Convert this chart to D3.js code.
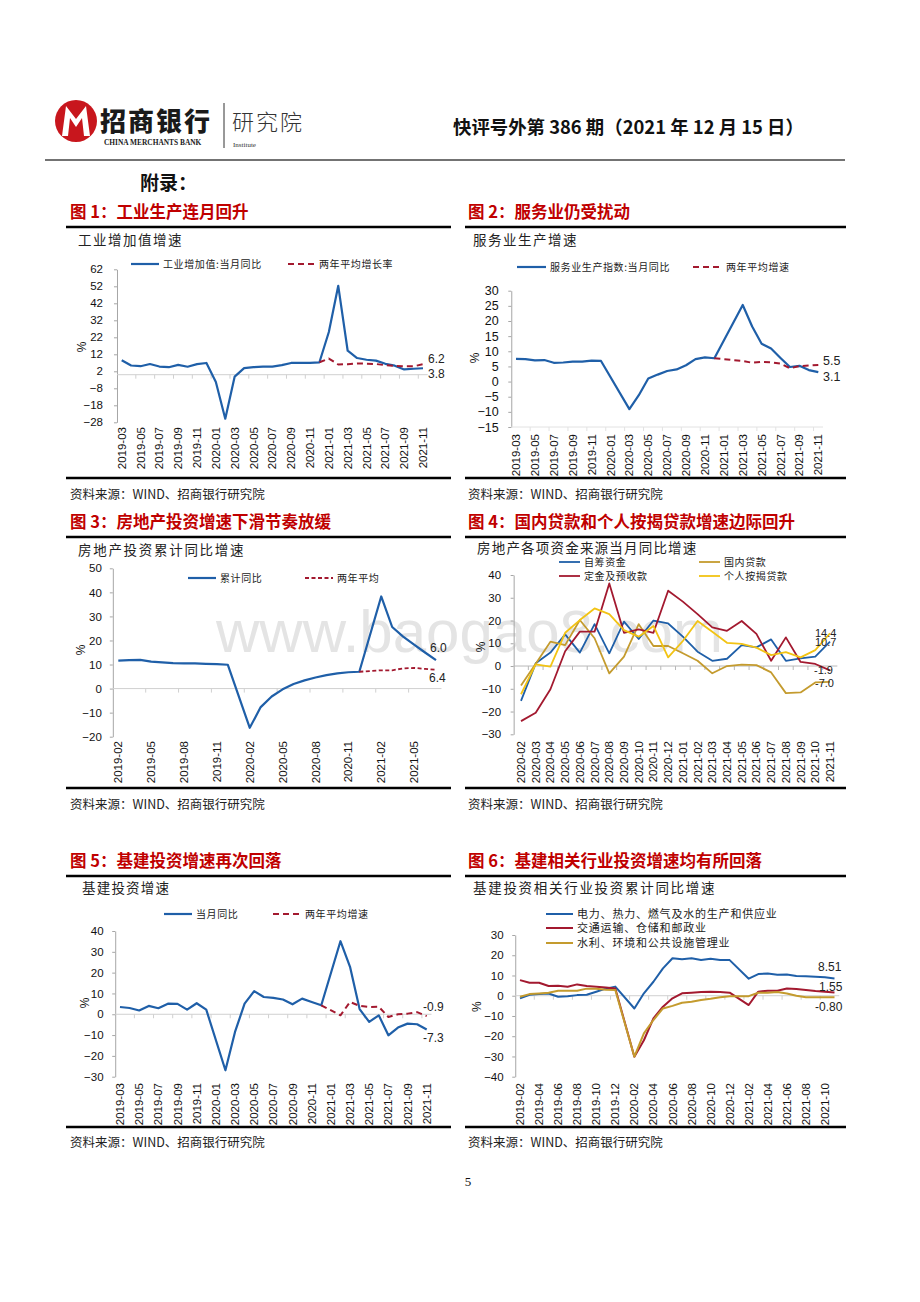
<!DOCTYPE html>
<html>
<head>
<meta charset="utf-8">
<script src="https://cdn.jsdelivr.net/npm/d3@7"></script>
<style>
  body { margin: 0; background: #fff; }
</style>
</head>
<body>
<svg id="page" width="920" height="1302"></svg>
<script>
// ---- categories ----
function monthRange(start, end) {
  const p = d3.timeParse("%Y-%m"), f = d3.timeFormat("%Y-%m");
  return d3.timeMonths(p(start), d3.timeMonth.offset(p(end), 1)).map(f);
}
const cat1 = monthRange("2019-03", "2021-11");   // 图1、图2、图5
const cat3 = monthRange("2019-02", "2021-07");   // 图3
const cat4 = monthRange("2020-02", "2021-11");   // 图4
const cat6 = monthRange("2019-02", "2021-11");   // 图6

// ---- 图1 工业增加值 ----
const ivaYoy = [8.5,5.4,5.0,6.3,4.8,4.4,5.8,4.7,6.2,6.9,
  -4.3,-25.9,-1.1,3.9,4.4,4.8,4.8,5.6,6.9,6.9,7.0,7.3,
  25.1,52.3,14.1,9.8,8.8,8.3,6.4,5.3,3.1,3.5,3.8];
const iva2y = [null,null,null,null,null,null,null,null,null,null,
  null,null,null,null,null,null,null,null,null,null,null,7.3,
  9.5,6.0,6.2,6.6,6.5,6.3,5.6,5.2,4.9,4.9,6.2];

// ---- 图2 服务业生产指数 ----
const svcYoy = [7.5,7.4,7.0,7.1,6.2,6.3,6.6,6.6,6.9,6.8,
  null,null,-9.1,-4.5,1.0,2.3,3.5,4.0,5.4,7.4,8.0,7.7,
  null,null,25.3,18.2,12.5,10.9,7.8,4.8,5.2,3.8,3.1];
const svc2y = [null,null,null,null,null,null,null,null,null,null,
  null,null,null,null,null,null,null,null,null,null,null,7.7,
  null,null,6.8,6.2,6.5,6.4,5.9,4.4,5.1,5.3,5.5];

// ---- 图3 房地产投资 ----
const reCum = [11.6,11.8,11.9,11.2,10.9,10.6,10.5,10.5,10.3,10.2,9.9,
  null,-16.3,-7.7,-3.3,-0.3,1.9,3.4,4.6,5.6,6.3,6.8,7.0,
  null,38.3,25.6,21.6,18.3,15.0,11.8];
const re2y = [null,null,null,null,null,null,null,null,null,null,null,
  null,null,null,null,null,null,null,null,null,null,null,7.0,
  null,7.6,7.6,8.4,8.6,8.2,7.8];

// ---- 图4 房地产资金来源 ----
const selfFund = [-15.3,1.2,5.9,13.9,5.9,18.4,5.6,19.5,11.9,20.0,18.7,12.9,6.3,2.3,3.2,9.2,8.2,11.7,2.3,3.4,4.1,10.7];
const domLoan  = [-8.6,1.0,10.7,9.2,20.2,12.2,-3.2,4.1,18.4,8.8,8.8,5.6,2.3,-3.2,0.0,0.6,0.4,-2.8,-11.9,-11.6,-7.2,-7.0];
const deposits = [-24.2,-20.5,-10.2,6.5,15.1,15.1,36.3,14.6,16.1,14.6,33.1,28.3,22.8,17.0,15.5,19.8,14.1,2.3,12.6,1.8,0.9,-1.9];
const mortgage = [-12.4,0.7,-0.3,14.6,20.2,25.3,22.8,15.8,12.9,17.6,3.8,11.0,19.8,15.1,10.2,9.7,8.1,4.8,6.1,3.8,7.0,14.4];

// ---- 图5 基建投资 ----
const infraYoy = [3.5,3.0,1.8,4.0,2.9,5.1,5.0,2.2,5.3,2.2,
  null,-26.9,-8.5,5.1,11.1,8.3,7.9,7.1,4.8,7.5,5.9,4.3,
  null,35.1,22.8,2.5,-3.7,-0.5,-10.1,-6.4,-4.5,-4.8,-7.3];
const infra2y = [null,null,null,null,null,null,null,null,null,null,
  null,null,null,null,null,null,null,null,null,null,null,4.3,
  null,-0.5,5.9,4.0,3.5,3.6,-1.3,0.0,0.3,1.0,-0.9];

// ---- 图6 基建相关行业 ----
const power = [-1.3,0.5,0.8,1.1,-0.5,-0.2,0.3,0.5,2.0,3.5,4.5,
  null,-6.3,1.2,6.9,13.5,18.5,18.0,18.5,17.6,18.3,17.6,17.6,
  null,8.4,10.7,11.0,10.4,10.5,9.7,9.6,9.4,9.1,8.51];
const transport = [7.7,6.4,6.4,4.8,4.9,4.4,5.6,4.8,4.4,4.1,3.6,
  null,-30.1,-22.0,-11.2,-5.4,-1.3,1.2,1.5,1.8,2.0,1.8,1.5,
  null,-4.6,2.0,2.5,2.5,3.6,3.3,2.8,2.3,2.0,1.55];
const water = [-0.5,0.8,1.1,1.5,2.5,2.5,2.5,3.5,3.5,3.0,2.8,
  null,-30.1,-18.6,-12.0,-6.3,-5.0,-3.5,-3.0,-2.1,-1.5,-0.7,-0.2,
  null,-0.2,1.5,1.5,1.8,1.1,0.0,-0.7,-0.8,-0.8,-0.80];

// ---- tick labels ----
const yTicks1 = [-28,-18,-8,2,12,22,32,42,52,62];
const yTicks2 = [-15,-10,-5,0,5,10,15,20,25,30];
const yTicks3 = [-20,-10,0,10,20,30,40,50];
const yTicks4 = [-30,-20,-10,0,10,20,30,40];
const yTicks5 = [-30,-20,-10,0,10,20,30,40];
const yTicks6 = [-40,-30,-20,-10,0,10,20,30];

const BLUE = "#1f5fa8", RED = "#a3192f", OLIVE = "#c49b2e", YELLOW = "#f2c314";
const CJK = '"Noto Sans CJK SC", "Noto Sans", sans-serif';
const LAT = '"Liberation Sans", Arial, sans-serif';

const svg = d3.select("#page");

// ---- 页眉 ----
svg.append("circle").attr("cx", 76).attr("cy", 121).attr("r", 21).attr("fill", "#c8161d");
svg.append("path")
  .attr("d", "M62,136 L66,106 L76,119 L86,106 L90,136 L84,136 L82,118 L76,127 L70,118 L68,136 Z")
  .attr("fill", "#fff");
svg.append("text").attr("x", 100).attr("y", 131)
  .attr("font-family", CJK).attr("font-weight", 900).attr("font-size", 26).attr("letter-spacing", 2)
  .attr("fill", "#1a1a1a").text("招商银行");
svg.append("text").attr("x", 104).attr("y", 145)
  .attr("font-family", '"Liberation Serif", serif').attr("font-weight", "bold").attr("font-size", 7.4)
  .attr("fill", "#1a1a1a").text("CHINA MERCHANTS BANK");
svg.append("line").attr("x1", 224).attr("x2", 224).attr("y1", 103).attr("y2", 148)
  .attr("stroke", "#333").attr("stroke-width", 1);
svg.append("text").attr("x", 232).attr("y", 130)
  .attr("font-family", CJK).attr("font-weight", 300).attr("font-size", 22).attr("letter-spacing", 2)
  .attr("fill", "#333").text("研究院");
svg.append("text").attr("x", 233).attr("y", 147)
  .attr("font-family", '"Liberation Serif", serif').attr("font-size", 7)
  .attr("fill", "#333").text("Institute");
svg.append("text").attr("x", 453).attr("y", 134)
  .attr("font-family", CJK).attr("font-weight", "bold").attr("font-size", 18.4)
  .attr("fill", "#111").text("快评号外第 386 期（2021 年 12 月 15 日）");
svg.append("line").attr("x1", 45).attr("x2", 845).attr("y1", 160).attr("y2", 160)
  .attr("stroke", "#444").attr("stroke-width", 1.5);
svg.append("text").attr("x", 140).attr("y", 190)
  .attr("font-family", CJK).attr("font-weight", "bold").attr("font-size", 19)
  .attr("fill", "#111").text("附录：");

// 水印
svg.append("text").attr("x", 216).attr("y", 652)
  .attr("font-family", LAT).attr("font-size", 60).attr("fill", "#e4e4e4")
  .text("www.baogao8.com");

// ---- 图框：标题、上下粗线、资料来源 ----
const frames = [
  { title: "图 1：工业生产连月回升", x: 70, x1: 66, x2: 451, ty: 218, top: 227, bottom: 478, src: 499 },
  { title: "图 2：服务业仍受扰动", x: 468, x1: 465, x2: 846, ty: 218, top: 227, bottom: 478, src: 499 },
  { title: "图 3：房地产投资增速下滑节奏放缓", x: 70, x1: 66, x2: 451, ty: 528, top: 537, bottom: 788, src: 809 },
  { title: "图 4：国内贷款和个人按揭贷款增速边际回升", x: 468, x1: 465, x2: 846, ty: 528, top: 537, bottom: 788, src: 809 },
  { title: "图 5：基建投资增速再次回落", x: 70, x1: 66, x2: 451, ty: 867, top: 876, bottom: 1127, src: 1147 },
  { title: "图 6：基建相关行业投资增速均有所回落", x: 468, x1: 465, x2: 846, ty: 867, top: 876, bottom: 1127, src: 1147 }
];
frames.forEach(f => {
  svg.append("text").attr("x", f.x).attr("y", f.ty)
    .attr("font-family", CJK).attr("font-weight", "bold").attr("font-size", 16.5)
    .attr("fill", "#c00000").text(f.title);
  [f.top, f.bottom].forEach(yy => svg.append("line")
    .attr("x1", f.x1).attr("x2", f.x2).attr("y1", yy).attr("y2", yy)
    .attr("stroke", "#000").attr("stroke-width", 2.4));
  svg.append("text").attr("x", f.x).attr("y", f.src)
    .attr("font-family", CJK).attr("font-size", 12.5)
    .attr("fill", "#222").text("资料来源：WIND、招商银行研究院");
});

svg.append("text").attr("x", 468).attr("y", 1186).attr("text-anchor", "middle")
  .attr("font-family", '"Liberation Serif", serif').attr("font-size", 13)
  .attr("fill", "#111").text("5");

// ---- 通用折线图 ----
function drawChart(c) {
  const g = svg.append("g");
  const x = d3.scalePoint().domain(c.cats).range(c.xRange);
  const y = d3.scaleLinear().domain(c.yDomain).range(c.yRange);
  const step = x.step();
  const left = c.xRange[0] - step / 2;
  const right = c.xRange[1] + step / 2;

  g.append("text").attr("x", c.sub.x).attr("y", c.sub.y)
    .attr("font-family", CJK).attr("font-size", 13.5).attr("letter-spacing", c.sub.ls)
    .attr("fill", "#222").text(c.sub.text);

  // y 轴
  const ya = g.append("g")
    .attr("transform", `translate(${left},0)`)
    .call(d3.axisLeft(y).tickValues(c.yTicks).tickSize(3).tickSizeOuter(0).tickPadding(c.yPad));
  ya.select(".domain").attr("stroke", "#a6a6a6");
  ya.selectAll(".tick line").attr("stroke", "#a6a6a6");
  ya.selectAll(".tick text").attr("font-family", LAT).attr("font-size", c.yFont).attr("fill", "#111");

  // x 轴线
  const y0 = y(c.xAxisAt);
  g.append("line").attr("x1", left).attr("x2", right).attr("y1", y0).attr("y2", y0)
    .attr("stroke", c.xAxisColor).attr("stroke-width", 1);
  g.selectAll(null)
    .data(c.cats.filter((d, i) => (i + 1) % c.tickEvery === 0 && i < c.cats.length - 1))
    .join("line")
    .attr("x1", d => x(d) + step / 2).attr("x2", d => x(d) + step / 2)
    .attr("y1", y0).attr("y2", y0 + 4)
    .attr("stroke", c.xAxisColor);

  g.selectAll(null)
    .data(c.cats.filter((d, i) => i % c.labelEvery === 0))
    .join("text")
    .attr("transform", d => `translate(${x(d)},${c.labelTop}) rotate(-90)`)
    .attr("text-anchor", "end").attr("dy", "0.35em")
    .attr("font-family", LAT).attr("font-size", 11.5).attr("fill", "#111")
    .text(d => d);

  g.append("text")
    .attr("transform", `translate(${c.pct[0]},${c.pct[1]}) rotate(-90)`)
    .attr("text-anchor", "middle").attr("dy", "0.35em")
    .attr("font-family", LAT).attr("font-size", 12).attr("fill", "#111").text("%");

  // 折线（空值处直接连线）
  const line = d3.line().x(d => x(d.cat)).y(d => y(d.v));
  c.series.forEach(s => {
    const pts = c.cats.map((cat, i) => ({ cat, v: s.values[i] })).filter(p => p.v != null);
    g.append("path")
      .attr("d", line(pts))
      .attr("fill", "none")
      .attr("stroke", s.color)
      .attr("stroke-width", s.width || 2)
      .attr("stroke-dasharray", s.dash || null)
      .attr("stroke-linejoin", "round");
  });

  // 图例
  c.legend.forEach(l => {
    const s = c.series[l.s];
    g.append("line").attr("x1", l.x).attr("x2", l.x + l.w).attr("y1", l.y).attr("y2", l.y)
      .attr("stroke", s.color).attr("stroke-width", s.width || 2)
      .attr("stroke-dasharray", s.dash || null);
    g.append("text").attr("x", l.x + l.w + 4).attr("y", l.y).attr("dy", "0.35em")
      .attr("font-family", CJK).attr("font-size", c.legFont || 10).attr("letter-spacing", c.legLs || 0.6)
      .attr("fill", "#222").text(s.name);
  });

  // 末值标注
  c.notes.forEach(n => g.append("text").attr("x", n.x).attr("y", n.y).attr("dy", "0.35em")
    .attr("font-family", LAT).attr("font-size", c.noteFont).attr("fill", "#222").text(n.t));
}

drawChart({
  cats: cat1, xRange: [121.7, 423], yDomain: [-28, 62], yRange: [422.3, 269.3], yTicks: yTicks1,
  yPad: 11, yFont: 11.5, xAxisAt: 0, xAxisColor: "#d0d0d0", tickEvery: 2, labelEvery: 2, labelTop: 427,
  pct: [82, 347], sub: { text: "工业增加值增速", x: 78, y: 245, ls: 1.5 },
  series: [
    { name: "工业增加值:当月同比", values: ivaYoy, color: BLUE, width: 2.2 },
    { name: "两年平均增长率", values: iva2y, color: RED, width: 2, dash: "6,4" }
  ],
  legend: [{ s: 0, x: 131, y: 264, w: 28 }, { s: 1, x: 288, y: 264, w: 27 }],
  notes: [{ t: "6.2", x: 428, y: 359 }, { t: "3.8", x: 428, y: 374 }], noteFont: 12
});

drawChart({
  cats: cat1, xRange: [516, 818.3], yDomain: [-15, 30], yRange: [427, 290.7], yTicks: yTicks2,
  yPad: 9.5, yFont: 12.5, xAxisAt: -15, xAxisColor: "#e2e2e2", tickEvery: 2, labelEvery: 2, labelTop: 434,
  pct: [475, 358], sub: { text: "服务业生产增速", x: 473, y: 245, ls: 1.5 },
  series: [
    { name: "服务业生产指数:当月同比", values: svcYoy, color: BLUE, width: 2.2 },
    { name: "两年平均增速", values: svc2y, color: RED, width: 2, dash: "6,4" }
  ],
  legend: [{ s: 0, x: 517, y: 267, w: 29 }, { s: 1, x: 693, y: 267, w: 29 }],
  notes: [{ t: "5.5", x: 823, y: 360.7 }, { t: "3.1", x: 823, y: 376.7 }], noteFont: 12.5
});

drawChart({
  cats: cat3, xRange: [118.3, 436], yDomain: [-20, 50], yRange: [736.7, 568.3], yTicks: yTicks3,
  yPad: 8, yFont: 11.5, xAxisAt: 0, xAxisColor: "#d0d0d0", tickEvery: 3, labelEvery: 3, labelTop: 741,
  pct: [81, 650], sub: { text: "房地产投资累计同比增速", x: 78, y: 555, ls: 1.7 },
  series: [
    { name: "累计同比", values: reCum, color: BLUE, width: 2.2 },
    { name: "两年平均", values: re2y, color: RED, width: 1.8, dash: "4,2.5" }
  ],
  legend: [{ s: 0, x: 188, y: 578, w: 28 }, { s: 1, x: 305, y: 578, w: 28 }],
  notes: [{ t: "6.0", x: 430, y: 648 }, { t: "6.4", x: 429, y: 678 }], noteFont: 12
});

drawChart({
  cats: cat4, xRange: [521, 830], yDomain: [-30, 40], yRange: [734.3, 575], yTicks: yTicks4,
  yPad: 9.5, yFont: 11.5, xAxisAt: 0, xAxisColor: "#b8b8b8", tickEvery: 1, labelEvery: 1, labelTop: 741,
  pct: [481, 647], sub: { text: "房地产各项资金来源当月同比增速", x: 477, y: 553, ls: 1.2 },
  series: [
    { name: "自筹资金", values: selfFund, color: BLUE, width: 1.8 },
    { name: "国内贷款", values: domLoan, color: OLIVE, width: 1.8 },
    { name: "定金及预收款", values: deposits, color: RED, width: 1.8 },
    { name: "个人按揭贷款", values: mortgage, color: YELLOW, width: 1.8 }
  ],
  legend: [
    { s: 0, x: 559, y: 562, w: 21 }, { s: 1, x: 699, y: 562, w: 21 },
    { s: 2, x: 559, y: 576, w: 21 }, { s: 3, x: 699, y: 576, w: 21 }
  ],
  notes: [
    { t: "14.4", x: 815, y: 633.3 }, { t: "10.7", x: 815, y: 641.7 },
    { t: "-1.9", x: 814, y: 670 }, { t: "-7.0", x: 815, y: 683.3 }
  ], noteFont: 11
});

drawChart({
  cats: cat1, xRange: [120, 426.7], yDomain: [-30, 40], yRange: [1076.7, 931], yTicks: yTicks5,
  yPad: 8.6, yFont: 11.5, xAxisAt: 0, xAxisColor: "#d0d0d0", tickEvery: 2, labelEvery: 2, labelTop: 1083,
  pct: [85, 1003], sub: { text: "基建投资增速", x: 82, y: 893, ls: 1.2 },
  series: [
    { name: "当月同比", values: infraYoy, color: BLUE, width: 2.2 },
    { name: "两年平均增速", values: infra2y, color: RED, width: 2, dash: "6,4" }
  ],
  legend: [{ s: 0, x: 164, y: 914, w: 28 }, { s: 1, x: 273, y: 914, w: 28 }],
  notes: [{ t: "-0.9", x: 423, y: 1006.7 }, { t: "-7.3", x: 423, y: 1037.3 }], noteFont: 12
});

drawChart({
  cats: cat6, xRange: [520, 834.5], yDomain: [-40, 30], yRange: [1076.7, 935], yTicks: yTicks6,
  yPad: 8.6, yFont: 11.5, xAxisAt: 0, xAxisColor: "#d0d0d0", tickEvery: 2, labelEvery: 2, labelTop: 1083,
  pct: [477, 1006.7], sub: { text: "基建投资相关行业投资累计同比增速", x: 473, y: 893, ls: 1.7 },
  legFont: 11, legLs: 0.8,
  series: [
    { name: "电力、热力、燃气及水的生产和供应业", values: power, color: BLUE, width: 2 },
    { name: "交通运输、仓储和邮政业", values: transport, color: RED, width: 2 },
    { name: "水利、环境和公共设施管理业", values: water, color: OLIVE, width: 2 }
  ],
  legend: [
    { s: 0, x: 546, y: 914, w: 27 }, { s: 1, x: 546, y: 928, w: 27 }, { s: 2, x: 546, y: 943, w: 27 }
  ],
  notes: [{ t: "8.51", x: 818, y: 966.7 }, { t: "1.55", x: 819, y: 986.7 }, { t: "-0.80", x: 815, y: 1006.7 }],
  noteFont: 12
});
</script>
</body>
</html>
